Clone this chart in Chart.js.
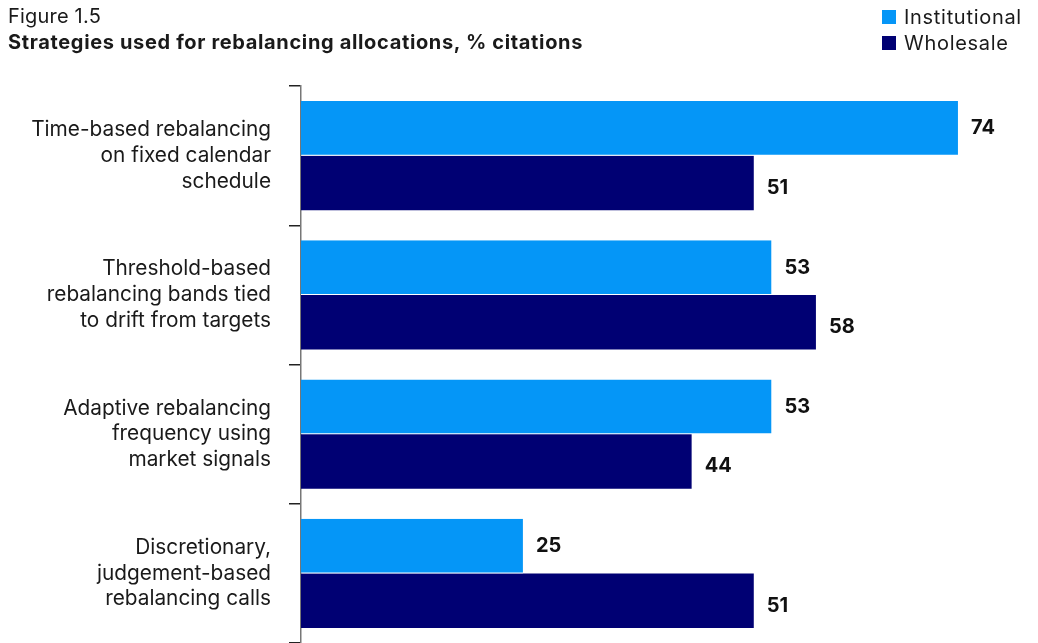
<!DOCTYPE html>
<html>
<head>
<meta charset="utf-8">
<script src="https://cdn.jsdelivr.net/npm/chart.js@4/dist/chart.umd.min.js"></script>
<style>
  html, body { margin: 0; padding: 0; background: #fff; }
  body { width: 1038px; height: 643px; position: relative; overflow: hidden; font-family: Inter, "Noto Sans", sans-serif; color: #1a1a1a; }
  #wrap { position: absolute; left: 0; top: 0; width: 1038px; height: 643px; }
  .fig { position: absolute; left: 8px; top: 4px; font-size: 20px; font-weight: 400; letter-spacing: 0.2px; }
  .ttl { position: absolute; left: 8px; top: 30px; font-size: 20px; font-weight: 700; letter-spacing: 0.65px; }
  .legend { position: absolute; left: 882px; top: 4px; font-size: 20px; letter-spacing: 0.7px; }
  .legend div { height: 26px; display: flex; align-items: center; }
  .legend span.sw { width: 14px; height: 14px; display: inline-block; margin-right: 8px; }
</style>
</head>
<body>
<div id="wrap"><canvas id="c" width="1038" height="643"></canvas></div>
<div class="fig">Figure 1.5</div>
<div class="ttl">Strategies used for rebalancing allocations, % citations</div>
<div class="legend" id="legend"></div>
<script>
const categories = [
  ["Time-based rebalancing", "on fixed calendar", "schedule"],
  ["Threshold-based", "rebalancing bands tied", "to drift from targets"],
  ["Adaptive rebalancing", "frequency using", "market signals"],
  ["Discretionary,", "judgement-based", "rebalancing calls"]
];
const seriesNames = ["Institutional", "Wholesale"];
const institutional = [74, 53, 53, 25];
const wholesale = [51, 58, 44, 51];
const seriesColors = ["#0596F7", "#000073"];

// legend
const legendEl = document.getElementById("legend");
seriesNames.forEach((name, i) => {
  const row = document.createElement("div");
  row.innerHTML = '<span class="sw" style="background:' + seriesColors[i] + '"></span>' + name;
  legendEl.appendChild(row);
});

// value labels to the right of each bar
const labelShift = [-1, 4];
const valueLabels = {
  id: "valueLabels",
  afterDatasetsDraw(chart) {
    const ctx = chart.ctx;
    ctx.save();
    ctx.font = "700 20px Inter, 'Noto Sans', sans-serif";
    ctx.fillStyle = "#111";
    ctx.textBaseline = "middle";
    ctx.textAlign = "left";
    chart.data.datasets.forEach((ds, di) => {
      const meta = chart.getDatasetMeta(di);
      meta.data.forEach((bar, i) => {
        ctx.fillText(String(ds.data[i]), bar.x + 13, bar.y + 1 + labelShift[di]);
      });
    });
    ctx.restore();
  }
};

new Chart(document.getElementById("c"), {
  type: "bar",
  data: {
    labels: categories,
    datasets: [
      { label: seriesNames[0], data: institutional, backgroundColor: seriesColors[0], borderColor: "#ffffff", borderWidth: { bottom: 1 } },
      { label: seriesNames[1], data: wholesale, backgroundColor: seriesColors[1] }
    ]
  },
  options: {
    indexAxis: "y",
    responsive: false,
    animation: false,
    layout: { padding: { top: 86, right: 9, bottom: 0, left: 0 } },
    datasets: { bar: { categoryPercentage: 0.784, barPercentage: 1.0 } },
    plugins: { legend: { display: false }, tooltip: { enabled: false } },
    scales: {
      x: {
        min: 0, max: 82,
        display: false
      },
      y: {
        offset: true,
        grid: { drawOnChartArea: false, tickLength: 12, tickColor: "#222", offset: true, lineWidth: 1.5 },
        border: { display: true, color: "#777", width: 1.5 },
        ticks: {
          padding: 18,
          color: "#1a1a1a",
          font: { family: "Inter, 'Noto Sans', sans-serif", size: 20.8, lineHeight: 1.24 }
        },
        afterFit(scale) {
          scale.width = 301;
          scale.paddingTop = 0;
          scale.paddingBottom = 0;
        }
      }
    }
  },
  plugins: [valueLabels]
});
</script>
</body>
</html>
